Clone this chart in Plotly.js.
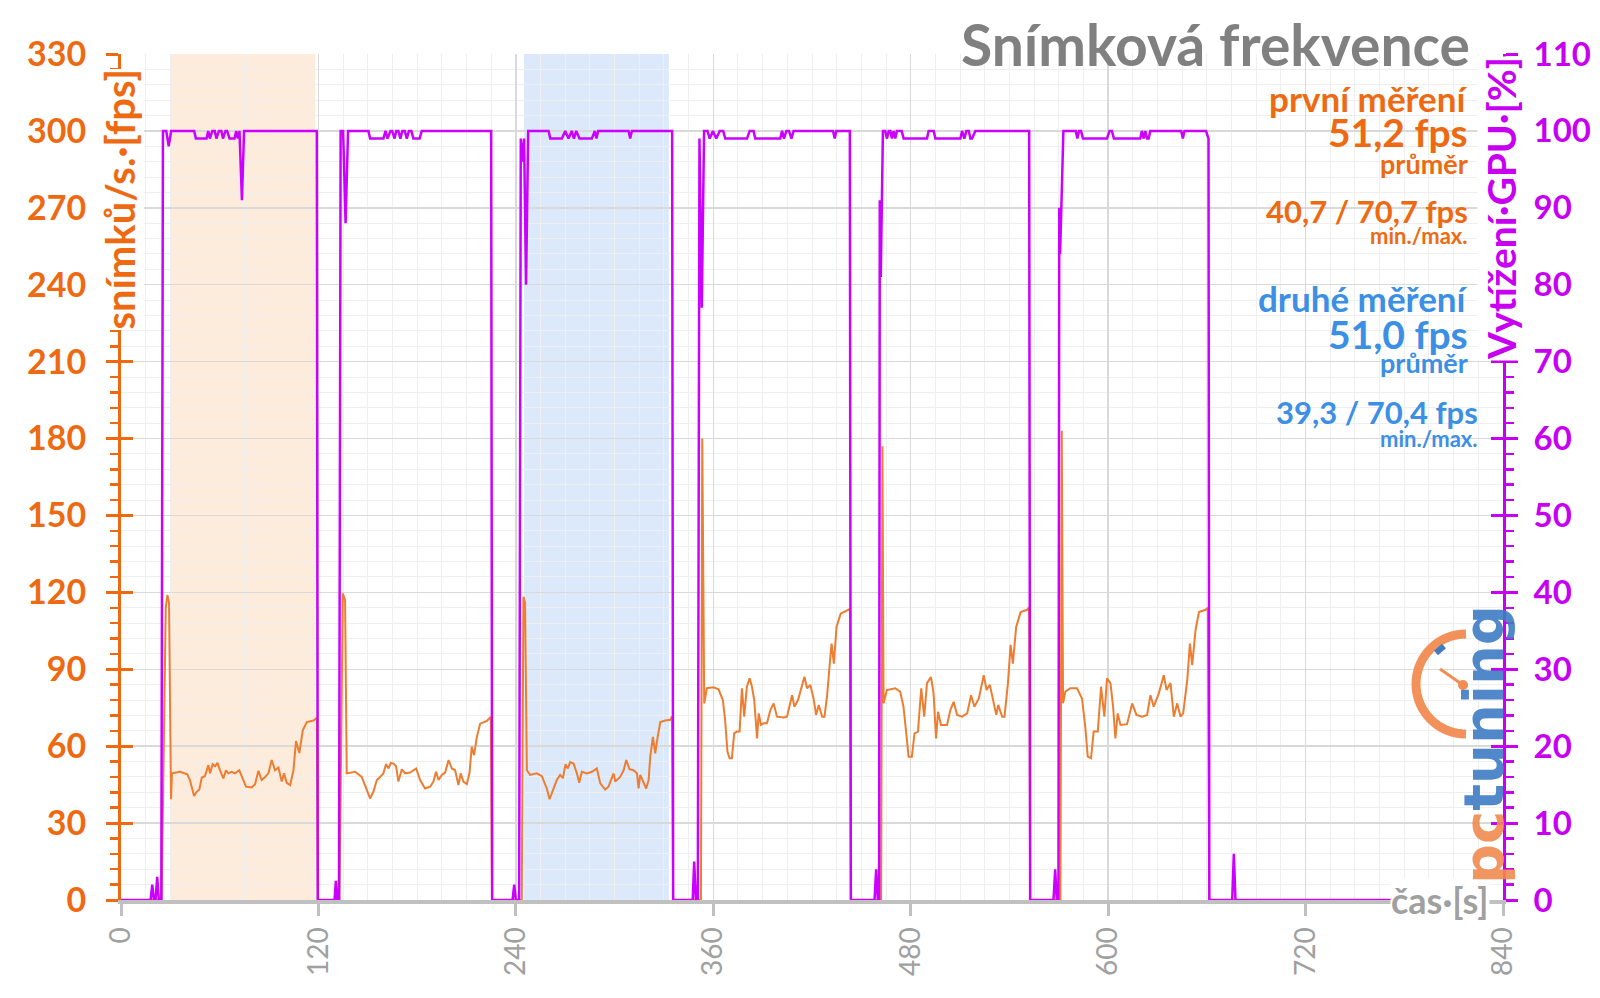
<!DOCTYPE html>
<html><head><meta charset="utf-8">
<script src="https://cdn.plot.ly/plotly-3.0.1.min.js"></script>
<style>html,body{margin:0;padding:0;background:#fff;}#chart{width:1600px;height:998px;}</style>
</head><body><div id="chart"></div>
<script>
// ---- data: [time s, value] ----
const fpsRun1 = [[0,0],[24.7,0],[27.2,114],[28.2,119],[29.2,116],[30.4,39.3],[31,49.4],[35.9,50],[40.3,49],[41.9,46.8],[44.4,40.6],[46,42.2],[47.6,43.1],[49.1,47.8],[51,48.3],[53.1,52.6],[54.1,49.4],[55.7,53],[57.2,52.2],[58.6,53.5],[60.2,50.6],[62.2,47.4],[63.8,50.6],[65.3,49.4],[67.3,50],[69.3,49.4],[71.9,50.6],[76,44.2],[79.5,43.9],[81.5,45.2],[83.5,50.4],[85.5,46.8],[87.6,48],[89.6,49.4],[91.6,54.6],[93.6,50.6],[95.7,51.7],[97.7,46.2],[99.1,49.4],[100.7,45.7],[102.8,44.8],[104.8,50.6],[106.4,62],[108.4,57.3],[110.5,66.2],[112.9,69.4],[117,70],[119,71.1],[119.6,0]];
const fpsRun2 = [[132.8,0],[134.8,119.6],[136.2,117],[137.2,49.4],[142.3,50],[146.3,48],[149.4,42.8],[151.4,39.6],[153.4,42.2],[155.5,46.8],[157.5,48],[159.5,49.4],[161.1,53],[162.6,51.3],[164,53.5],[165.6,53.2],[167.2,52.2],[168.6,46.2],[170.7,51],[172.7,49.4],[175.7,49.7],[179.4,51.3],[181.8,46.8],[184.8,43.5],[187.9,44.2],[189.9,46.2],[191.5,50],[193,46.8],[195,48.8],[197,49.7],[199.1,54.6],[201.1,51.3],[203.1,50.6],[205.1,44.8],[206.5,49.4],[208.1,46.2],[210.2,45.2],[211.8,49.4],[213.2,59.8],[214.6,56.5],[216.3,63.6],[218.3,68.8],[222.4,69.9],[224.8,71.4],[225.5,0]];
const fpsRun3 = [[243.6,0],[244.6,118.3],[245.6,116],[246.7,50.6],[248.7,48.8],[252.7,49.4],[255.8,48.3],[258.8,43.5],[260.5,39.3],[262.5,42.8],[264.9,46.8],[266.9,48.8],[268.6,47.5],[270.2,53],[271.6,51.3],[273,53.8],[275.1,53.2],[277.1,49.4],[278.5,45.7],[280.1,50],[283.2,49.4],[286.2,50],[289.2,51.3],[291.3,45.5],[294.3,43.1],[296.3,44.2],[299.4,49.4],[300.4,46.2],[303.4,48],[305.5,50.6],[307.1,54.6],[309.1,51],[311.5,50.6],[313.6,49.4],[314.6,43.5],[315.6,48.8],[317.6,46.2],[319.2,43.5],[320.7,46.8],[321.7,55.9],[323.3,63.6],[324.7,57.2],[326.2,63.6],[327.8,69.4],[330.8,70],[333.9,70.3],[334.9,71.6],[335.6,0]];
const fpsRun4 = [[352.5,0],[353.3,180],[354.5,76.7],[356.1,82.6],[360.1,83],[363.2,82.2],[365.8,78],[367.2,70.2],[368.6,57.9],[369.9,55.3],[371.3,55.3],[372.7,65],[374.3,65.7],[376,65.7],[377.4,82.6],[378.8,71.5],[380.4,83.2],[382.1,86.5],[383.5,83.2],[384.9,78],[386.6,63],[387.6,72.8],[389,68.3],[390.6,68.9],[392.6,68.9],[394.7,74.1],[396.7,76.7],[398.7,71.5],[402.8,71.2],[404.8,71.5],[407.9,79.9],[409.3,75.4],[411.5,78],[413.9,83.2],[415.4,87.1],[417,82.6],[419,83.9],[421.1,78],[422.5,72.2],[424.1,76.1],[426.2,71.5],[427.6,71.5],[429.2,79.9],[430.9,92.9],[431.9,100],[433.3,92.2],[434.9,106.5],[437.4,111.7],[441.5,113],[443.1,113.6],[443.7,0]];
const fpsRun5 = [[462,0],[462.8,177],[463.5,76.7],[465.5,81.9],[470.6,82.6],[473.6,81.3],[475.6,75.4],[477.3,65],[478.7,55.9],[480.7,55.9],[482.3,65],[484.4,65.7],[486.4,82.6],[488.2,71.5],[489.9,84.6],[492.3,87],[493.9,80.6],[495.4,63],[496.6,73.4],[498.4,68.3],[502.1,68.3],[504.1,74.1],[506.1,77.3],[508.2,72.2],[511.2,71.5],[514.3,72.8],[516.7,79.9],[518.7,75.4],[521.4,78.6],[524.4,87.7],[526.1,81.9],[528.1,83.9],[530.1,78],[532,72.2],[533.2,76.1],[535.6,71.5],[537,71.5],[539.1,84.6],[540.7,99.5],[542.1,92.2],[544.1,106.5],[546.8,112.3],[550.8,113.2],[552,114.3],[552.6,0]];
const fpsRun6 = [[571,0],[571.8,183],[572.6,76.7],[574,81.3],[577,82.6],[581.1,82.6],[584.1,78.6],[586.1,67.6],[587.6,55.9],[589.6,55.3],[591.2,65.7],[593.7,65.7],[595.7,83.2],[597.7,71.5],[599.3,86.5],[601.4,84.6],[603,75.4],[604.4,63],[605.8,72.8],[607.5,68.3],[611.5,68.6],[614.6,76.7],[617.2,72.2],[620.7,71.5],[623.7,72.2],[625.7,79.9],[627.7,75.4],[630.8,80.6],[633.8,87.7],[635.5,81.9],[637.9,84.6],[639.9,71.5],[642,76.7],[644,71.5],[645.6,72.8],[648.1,85.9],[649.7,100],[651.1,91.6],[653.1,105.2],[655.2,112.3],[659.2,113.2],[660.6,114],[661.4,0],[790,0]];

const gpuRun1 = [[0,0],[18,0],[19,2],[20,0],[21,0],[22,3],[23,0],[24.5,0],[25.5,100],[27.5,100],[29,98],[30.5,100],[44.5,100],[45.5,99],[52,99],[53,100],[54,99],[55.5,100],[57,100],[58,99],[59.5,100],[61,100],[62,99],[63.5,100],[64.5,100],[66,99],[69,99],[70,100],[71,99],[72,100],[73.5,91],[74.8,100],[119,100],[119.6,0]];
const gpuRun2 = [[129.8,0],[130.6,2.5],[131.4,0],[132.5,0],[133.5,100],[135,100],[136.5,88],[138,100],[150.4,100],[151.4,99],[159.5,99],[160.8,100],[162,99],[163.8,100],[164.8,100],[166.3,99],[167.3,100],[168.6,100],[169.8,99],[171,100],[172.5,100],[173.7,99],[175,100],[176.5,100],[177.7,99],[181.5,99],[182.8,100],[225,100],[225.6,0]];
const gpuRun3 = [[238,0],[239,2],[240,0],[242,0],[243,99],[244,96],[245,99],[246.2,80],[247.5,100],[259.9,100],[260.9,99],[268,99],[270,100],[272,99],[274,100],[275.3,99],[276.7,100],[278.7,99],[286.2,99],[288,100],[289,99],[290,100],[308.5,100],[309.5,99],[310.5,100],[335,100],[335.6,0]];
const gpuRun4 = [[347.5,0],[348.4,5],[349.4,0],[350.6,0],[351.6,99],[353,77],[354.4,100],[356.5,100],[357.8,99],[359.8,100],[361.8,99],[363.9,100],[366,100],[367.3,99],[380.5,99],[382.1,100],[384.5,100],[385.5,99],[400.7,99],[401.8,100],[403,99],[404.4,100],[406,100],[407.5,99],[408.8,100],[432.8,100],[433.8,99],[434.8,100],[443,100],[443.6,0]];
const gpuRun5 = [[458,0],[459,4],[460,0],[460.8,0],[461.2,91],[461.8,81],[463.1,100],[464.5,100],[465.6,99],[466.6,100],[467.6,100],[468.6,99],[469.6,100],[470.6,99],[471.6,100],[474.5,100],[475.7,99],[489.9,99],[490.9,100],[494,100],[495,99],[510.2,99],[511.2,100],[512.6,99],[513.8,100],[515.3,100],[516.3,99],[517.3,99],[519.3,100],[552,100],[552.6,0]];
const gpuRun6 = [[566.8,0],[567.8,4],[568.8,0],[569.8,0],[570.3,90],[570.8,84],[572.8,100],[580.3,100],[581.3,99],[582.3,100],[583.5,100],[584.7,99],[599.3,99],[600.8,100],[602.3,100],[603.5,99],[619.5,99],[620.5,100],[621.6,99],[622.6,100],[623.6,99],[624.6,99],[625.6,100],[644.4,100],[645.4,99],[646.4,100],[659.5,100],[661,99],[661.5,0]];
const gpuTail = [[675.4,0],[676.4,6],[677.4,0],[790,0]];

const xTicks = [0,120,240,360,480,600,720,840];
const fpsTicks = [0,30,60,90,120,150,180,210,240,270,300,330];
const gpuTicks = [0,10,20,30,40,50,60,70,80,90,100,110];
const shadeFirst = [30,118];
const shadeSecond = [245,333];

const infoFirst = ['první měření','51,2 fps','průměr','40,7 / 70,7 fps','min./max.'];
const infoSecond = ['druhé měření','51,0 fps','průměr','39,3 / 70,4 fps','min./max.'];

// ---- build ----
const fpsAll = [].concat(fpsRun1,fpsRun2,fpsRun3,fpsRun4,fpsRun5,fpsRun6);
const gpuAll = [].concat(gpuRun1,gpuRun2,gpuRun3,gpuRun4,gpuRun5,gpuRun6,gpuTail);

const ORANGE = '#ee6a12', BLUE = '#3b8fe4', PURPLE = '#c800f2', GRAY = '#a0a0a0';
const FONT = 'Lato, "Open Sans", sans-serif';

const L = 121, R = 97, T = 54, B = 98, W = 1600, H = 998;
const PW = W - L - R, PH = H - T - B;
const px = X => (X - L) / PW;
const py = Y => (H - B - Y) / PH;

const traces = [
  {x: fpsAll.map(p=>p[0]), y: fpsAll.map(p=>p[1]), type:'scatter', mode:'lines',
   line:{color:'#ed7d31', width:2}, yaxis:'y', hoverinfo:'skip', showlegend:false},
  {x: gpuAll.map(p=>p[0]), y: gpuAll.map(p=>p[1]), type:'scatter', mode:'lines',
   line:{color:'#cc00ff', width:2.5}, yaxis:'y2', hoverinfo:'skip', showlegend:false},
  {x:[0], y:[0], type:'scatter', mode:'lines', yaxis:'y3', line:{width:0}, hoverinfo:'skip', showlegend:false},
  {x:[0], y:[0], type:'scatter', mode:'lines', yaxis:'y4', line:{width:0}, hoverinfo:'skip', showlegend:false}
];

const ann = [];
function addInfo(lines, color, rights, ys, sizes){
  lines.forEach((t,i)=>ann.push({text:t, xref:'paper', yref:'paper', x:px(rights[i]), y:py(ys[i]),
    xanchor:'right', yanchor:'middle', showarrow:false,
    font:{family:FONT, size:sizes[i], color:color, weight:'bold'}}));
}
addInfo(infoFirst, ORANGE, [1470,1470,1470,1470,1470], [98,132,164,211,235], [35,39,27,31,22]);
addInfo(infoSecond, BLUE, [1470,1470,1470,1480,1480], [298,334,362,412,438], [35,39,27,31,22]);

// axis titles (white boxes over axis lines)
ann.push({text:'snímků/s.·[fps]', xref:'paper', yref:'paper', x:px(119.5), y:py(200), textangle:-90,
  xanchor:'center', yanchor:'middle', showarrow:false, bgcolor:'#ffffff', borderpad:0,
  font:{family:FONT, size:40, color:ORANGE, weight:'bold'}});
ann.push({text:'Vytížení·GPU·[%]', xref:'paper', yref:'paper', x:px(1501), y:py(209), textangle:-90,
  xanchor:'center', yanchor:'middle', showarrow:false, bgcolor:'#ffffff', borderpad:0,
  font:{family:FONT, size:39, color:PURPLE, weight:'bold'}});
ann.push({text:'čas·[s]', xref:'paper', yref:'paper', x:px(1490), y:0, xanchor:'right', yanchor:'middle',
  showarrow:false, bgcolor:'#ffffff', borderpad:0,
  font:{family:FONT, size:36, color:GRAY, weight:'bold'}});
// logo text
ann.push({text:'<span style="color:#f08a50">pc</span><span style="color:#3f7cc4">tuning</span>',
  xref:'paper', yref:'paper', x:px(1483), y:py(745), textangle:-90, xanchor:'center', yanchor:'middle',
  showarrow:false, font:{family:'"DejaVu Sans", sans-serif', size:56, weight:'bold', color:'#3f7cc4'}, opacity:0.9});

// logo clock (decoration)
const cx = 1466, cy = 684, r = 50;
let arc = '';
for (let k=0;k<=36;k++){
  const a = Math.PI/2 + Math.PI*k/36;
  const X = cx + r*Math.cos(a), Y = cy - r*Math.sin(a);
  arc += (k===0?'M ':' L ') + px(X).toFixed(5) + ',' + py(Y).toFixed(5);
}
const shapes = [
  {type:'rect', xref:'x', yref:'paper', x0:shadeFirst[0], x1:shadeFirst[1], y0:0, y1:1,
   fillcolor:'#fdebdb', line:{width:0}, layer:'below'},
  {type:'rect', xref:'x', yref:'paper', x0:shadeSecond[0], x1:shadeSecond[1], y0:0, y1:1,
   fillcolor:'#dce9fa', line:{width:0}, layer:'below'},
  {type:'path', xref:'paper', yref:'paper', path:arc, line:{color:'#f28c52', width:9}, opacity:0.95},
  {type:'line', xref:'paper', yref:'paper', x0:px(1463), y0:py(685), x1:px(1440), y1:py(669),
   line:{color:'#f28c52', width:3}},
  {type:'circle', xref:'paper', yref:'paper', x0:px(1458), y0:py(690), x1:px(1468), y1:py(680),
   fillcolor:'#f28c52', line:{width:0}},
  {type:'line', xref:'paper', yref:'paper', x0:px(1436), y0:py(653), x1:px(1444), y1:py(646),
   line:{color:'#3f7cc4', width:6}}
];

const layout = {
  width:W, height:H, margin:{l:L, r:R, t:T, b:B},
  paper_bgcolor:'#ffffff', plot_bgcolor:'#ffffff', showlegend:false,
  title:{text:'Snímková frekvence', xref:'container', yref:'container', x:1470/W, xanchor:'right',
         y:1-46/H, yanchor:'middle', font:{family:FONT, size:57, color:'#808080', weight:'bold'}},
  xaxis:{range:[0,840], tickvals:xTicks, ticktext:xTicks.map(String), tickangle:-90,
         ticks:'outside', ticklen:12, tickwidth:3, tickcolor:'#c0c0c0',
         showline:true, linecolor:'#c0c0c0', linewidth:4, zeroline:false,
         showgrid:true, gridcolor:'#d9d9d9', gridwidth:1.5,
         minor:{dtick:15, showgrid:true, gridcolor:'#efefef', gridwidth:1, ticks:''},
         tickfont:{family:FONT, size:28, color:GRAY}, layer:'below traces', fixedrange:true},
  yaxis:{range:[0,330], tickvals:fpsTicks, ticktext:fpsTicks.map(String),
         ticks:'outside', ticklen:12, tickwidth:3, tickcolor:ORANGE,
         showline:true, linecolor:ORANGE, linewidth:3, zeroline:false,
         showgrid:true, gridcolor:'#d9d9d9', gridwidth:1.5,
         minor:{dtick:6, ticks:'outside', ticklen:8, tickwidth:2.5, tickcolor:ORANGE,
                showgrid:true, gridcolor:'#efefef', gridwidth:1},
         tickfont:{family:FONT, size:34, color:ORANGE, weight:'bold'}, ticklabelstandoff:13, fixedrange:true},
  yaxis2:{range:[0,110], overlaying:'y', side:'right', anchor:'x', tickvals:gpuTicks, ticktext:gpuTicks.map(String),
         ticks:'outside', ticklen:12, tickwidth:3, tickcolor:PURPLE,
         showline:true, linecolor:PURPLE, linewidth:3, zeroline:false, showgrid:false,
         minor:{dtick:2, ticks:'outside', ticklen:8, tickwidth:2.5, tickcolor:PURPLE, showgrid:false},
         tickfont:{family:FONT, size:33, color:PURPLE, weight:'bold'}, ticklabelstandoff:9, fixedrange:true},
  yaxis3:{range:[0,330], overlaying:'y', side:'left', anchor:'x', tickvals:fpsTicks,
         ticks:'inside', ticklen:12, tickwidth:3, tickcolor:ORANGE, showticklabels:false,
         showline:false, showgrid:false, zeroline:false, fixedrange:true},
  yaxis4:{range:[0,110], overlaying:'y', side:'right', anchor:'x', tickvals:gpuTicks,
         ticks:'inside', ticklen:12, tickwidth:3, tickcolor:PURPLE, showticklabels:false,
         showline:false, showgrid:false, zeroline:false, fixedrange:true},
  shapes:shapes, annotations:ann
};

Plotly.newPlot('chart', traces, layout, {displayModeBar:false, staticPlot:true});
</script>
</body></html>
